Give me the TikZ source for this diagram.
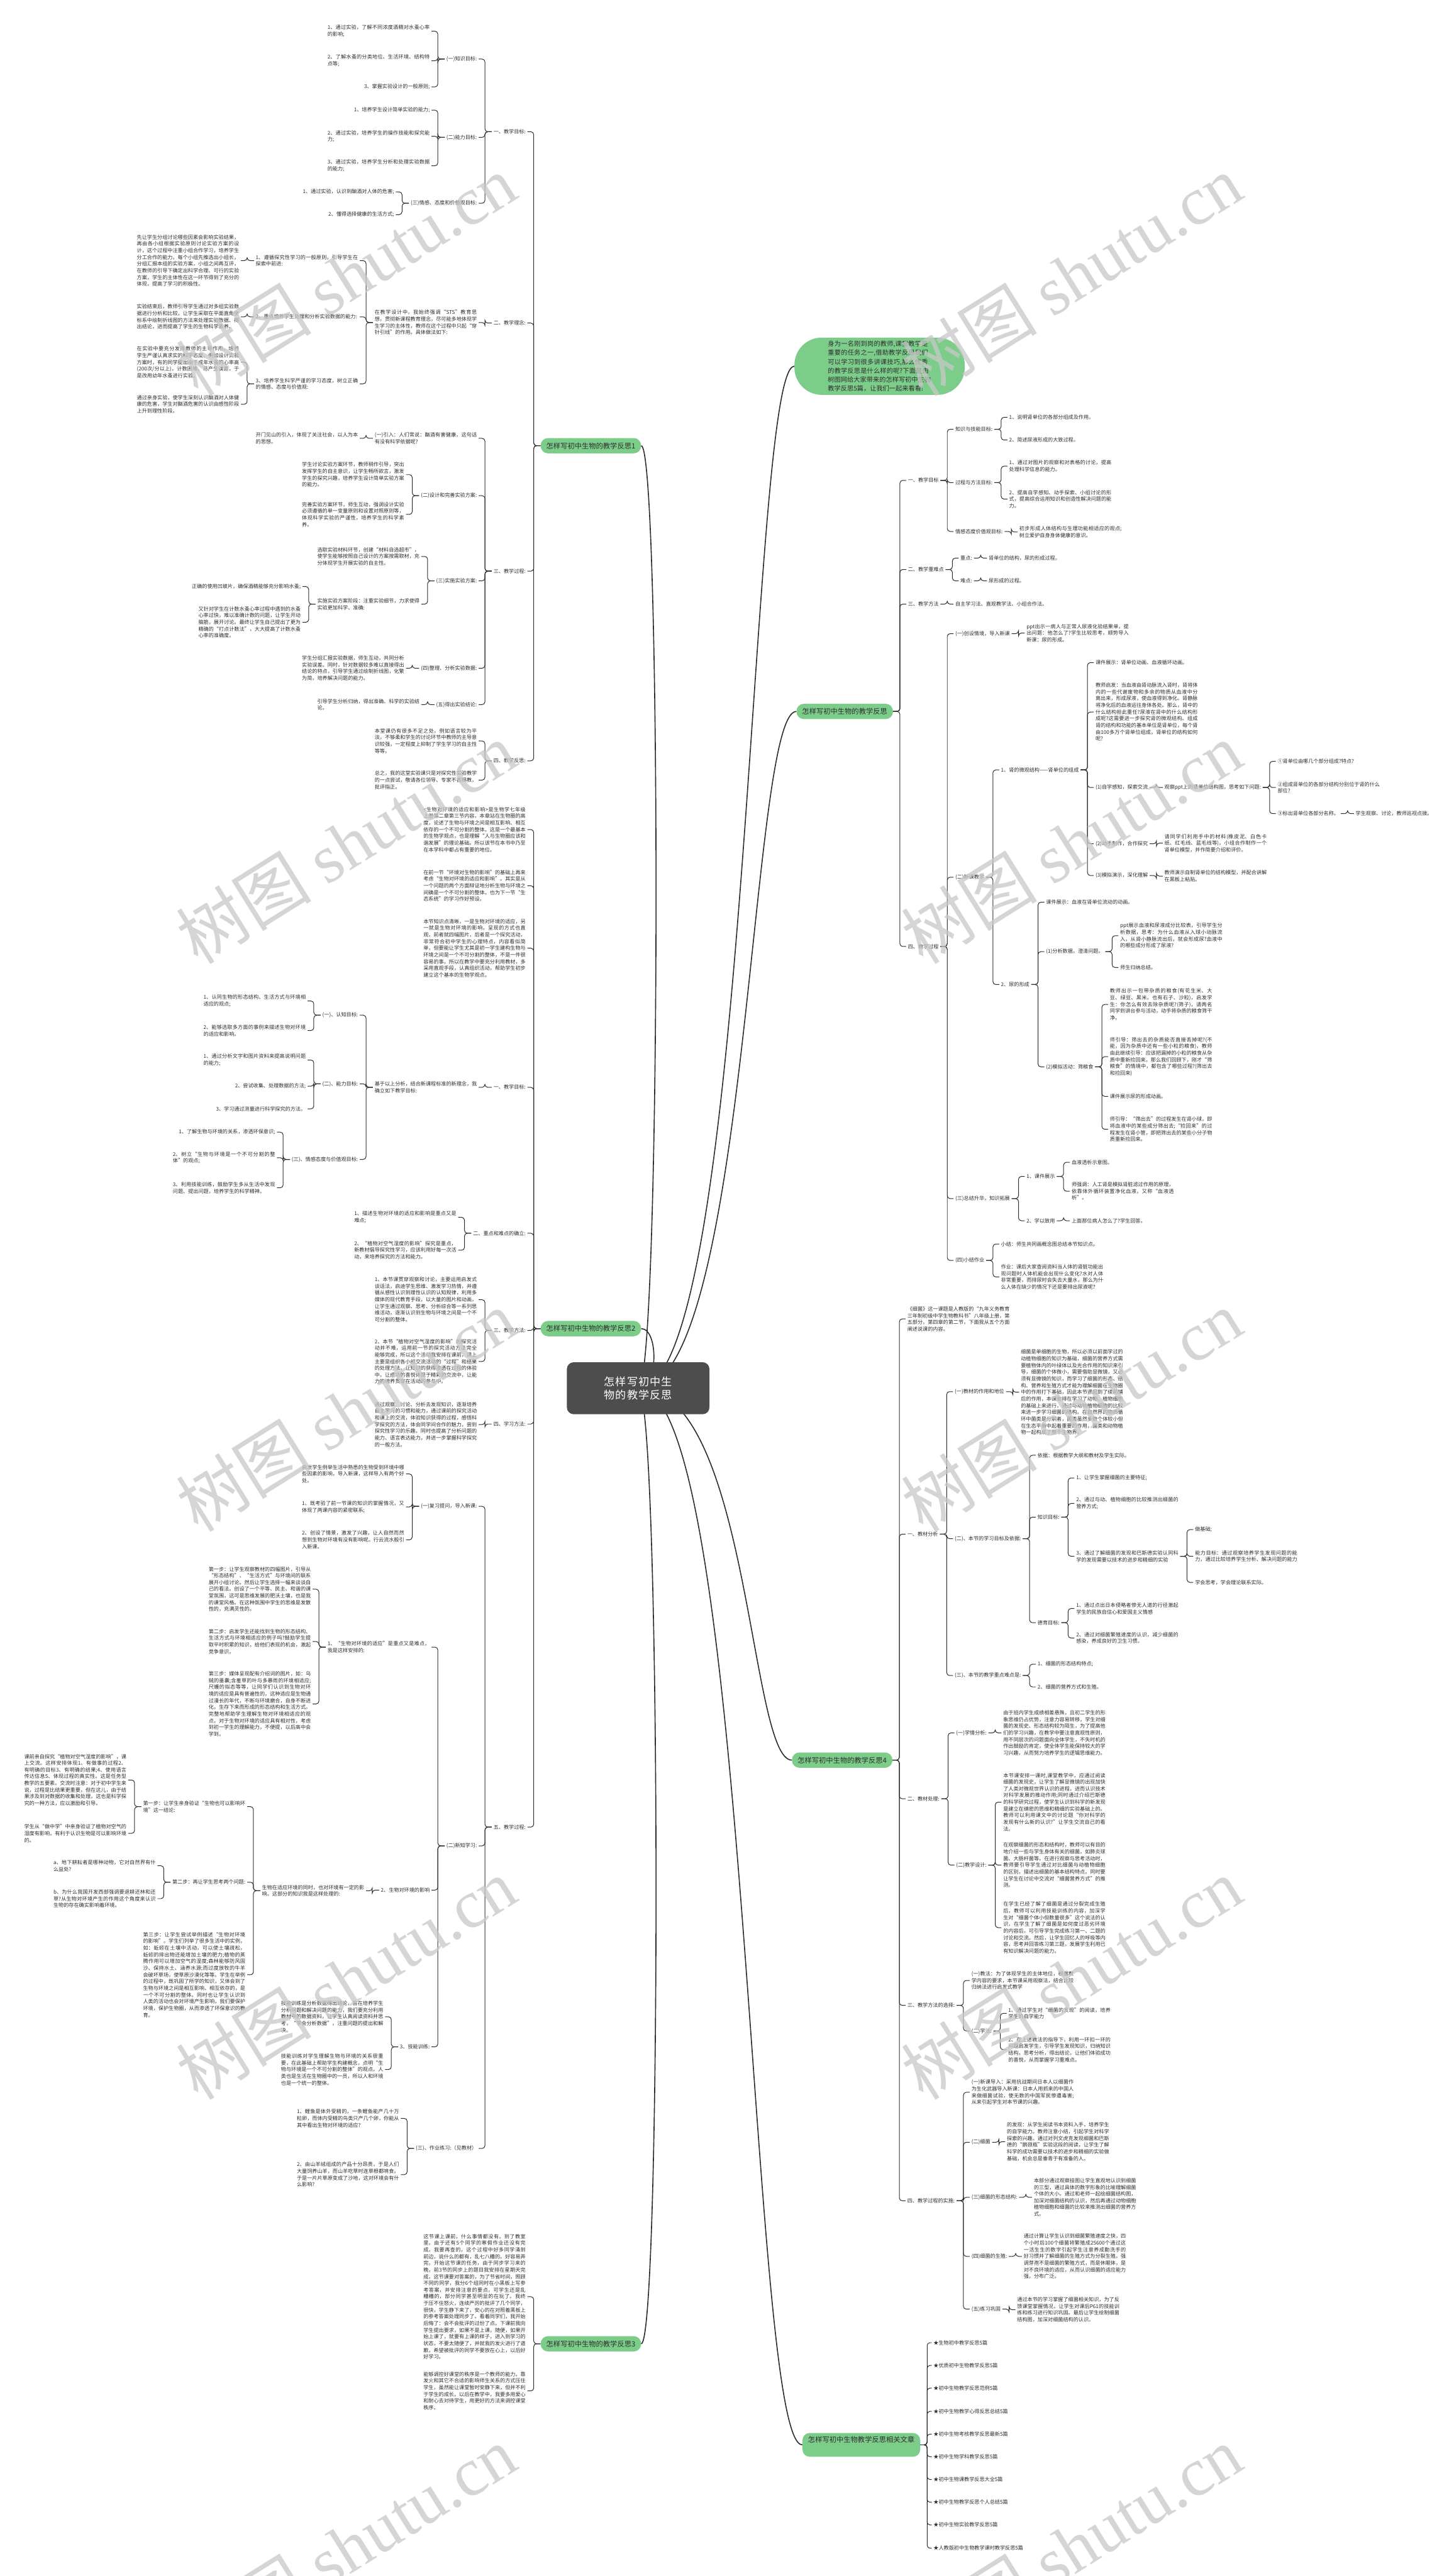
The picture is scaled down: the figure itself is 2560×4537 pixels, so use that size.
\documentclass[tikz,border=0pt]{standalone}
\usepackage{fontspec}
\setmainfont{Noto Sans CJK SC}
\newfontfamily\wmlatin{Liberation Serif}
\usetikzlibrary{positioning,calc}
\XeTeXlinebreaklocale "zh"
\XeTeXlinebreakskip=0pt plus 1pt
\definecolor{ink}{RGB}{45,45,45}
\definecolor{leafgreen}{RGB}{125,205,138}
\definecolor{rootgray}{RGB}{77,77,77}
\definecolor{wmgray}{RGB}{200,200,200}
\newcommand\txtsize{\fontsize{9}{11.8}\selectfont}
\tikzset{
  txt/.style    ={inner xsep=3pt, inner ysep=1pt, font=\txtsize, text=ink},
  para/.style   ={txt, text width=180pt, align=justify},
  lt/.style     ={anchor=east},
  rt/.style     ={anchor=west},
  topic/.style  ={rectangle, rounded corners=13pt, fill=leafgreen, text=ink,
                  font=\fontsize{12.5}{15}\selectfont, minimum height=27pt, inner xsep=10pt},
  bubble/.style ={rectangle, rounded corners=48pt, fill=leafgreen, text=ink, align=left,
                  font=\fontsize{11.3}{15.6}\selectfont, text width=182pt,
                  inner xsep=59pt, inner ysep=6pt},
  rootbox/.style={rectangle, rounded corners=12pt, fill=rootgray, text=white, align=center,
                  font=\fontsize{19}{24}\selectfont, text width=209pt, inner xsep=21pt, inner ysep=25pt},
  link/.style   ={draw=ink, line width=1.1pt, rounded corners=5pt},
  trunk/.style  ={draw=ink, line width=1.8pt},
  wm/.style     ={text=wmgray, opacity=0.75, rotate=32, anchor=base west,
                  font=\fontsize{120}{120}\selectfont}
}
\begin{document}
\begin{tikzpicture}[x=1pt, y=1pt]
\useasboundingbox (0,0) rectangle (2560,-4537);
\fill[white] (0,0) rectangle (2560,-4537);
\coordinate (rootc) at (1124,-2445);

% ---- topics ----
\node[topic, anchor=west] (b1) at (952,-785) {怎样写初中生物的教学反思1};
\node[topic, anchor=west] (b2) at (952,-2340) {怎样写初中生物的教学反思2};
\node[topic, anchor=west] (b3) at (952,-4128) {怎样写初中生物的教学反思3};
\node[bubble, anchor=west] (intro) at (1399,-645) {身为一名刚到岗的教师,课堂教学是重要的任务之一,借助教学反思我们可以学习到很多讲课技巧,那么优秀的教学反思是什么样的呢?下面是由树图网给大家带来的怎样写初中生物教学反思5篇，让我们一起来看看!};
\node[topic, anchor=east] (r1) at (1573,-1253) {怎样写初中生物的教学反思};
\node[topic, anchor=east] (b4) at (1572,-3100) {怎样写初中生物的教学反思4};
\node[topic, anchor=east, minimum height=0pt, text height=11pt, text depth=19pt, inner ysep=6pt] (rel) at (1621,-4306) {怎样写初中生物教学反思相关文章};

% ---- trunks ----
\draw[trunk] (rootc) .. controls (1165,-2445) and (1165,-785) .. (b1.east);
\draw[trunk] (rootc) .. controls (1160,-2445) and (1160,-2340) .. (b2.east);
\draw[trunk] (rootc) .. controls (1165,-2445) and (1165,-4128) .. (b3.east);
\draw[trunk] (rootc) .. controls (1320,-2445) and (1320,-645) .. (intro.west);
\draw[trunk] (rootc) .. controls (1320,-2445) and (1320,-1253) .. (r1.west);
\draw[trunk] (rootc) .. controls (1320,-2445) and (1320,-3100) .. (b4.west);
\draw[trunk] (rootc) .. controls (1320,-2445) and (1320,-4307) .. (rel.west);
\node[rootbox] (root) at (rootc) {怎样写初中生物的教学反思};

% ===== branch 1 =====
\coordinate (b1j) at ([xshift=-12pt]b1.west);
\node[txt,lt] (b1a) at ([xshift=-11pt]b1j |- 0,-232) {一、教学目标:};
\node[txt,lt] (b1b) at ([xshift=-11pt]b1j |- 0,-569) {二、教学理念:};
\node[txt,lt] (b1c) at ([xshift=-11pt]b1j |- 0,-1006) {三、教学过程:};
\node[txt,lt] (b1d) at ([xshift=-11pt]b1j |- 0,-1340) {四、教学反思:};
\foreach \c in {b1a,b1b,b1c,b1d} \draw[link] (b1.west) -- (b1j) |- (\c.east);

\coordinate (b1aj) at ([xshift=-12pt]b1a.west);
\node[txt,lt] (b1a1) at ([xshift=-11pt]b1aj |- 0,-104) {(一)知识目标:};
\node[txt,lt] (b1a2) at ([xshift=-11pt]b1aj |- 0,-242) {(二)能力目标:};
\node[txt,lt] (b1a3) at ([xshift=-11pt]b1aj |- 0,-358) {(三)情感、态度和价值观目标:};
\foreach \c in {b1a1,b1a2,b1a3} \draw[link] (b1a.west) -- (b1aj) |- (\c.east);

\coordinate (b1a1j) at ([xshift=-12pt]b1a1.west);
\node[para,lt] (b1a1a) at ([xshift=-11pt]b1a1j |- 0,-55) {1、通过实验，了解不同浓度酒精对水蚤心率的影响;};
\node[para,lt] (b1a1b) at ([xshift=-11pt]b1a1j |- 0,-107) {2、了解水蚤的分类地位、生活环境、结构特点等;};
\node[txt,lt] (b1a1c) at ([xshift=-11pt]b1a1j |- 0,-153) {3、掌握实验设计的一般原则;};
\foreach \c in {b1a1a,b1a1b,b1a1c} \draw[link] (b1a1.west) -- (b1a1j) |- (\c.east);

\coordinate (b1a2j) at ([xshift=-12pt]b1a2.west);
\node[txt,lt] (b1a2a) at ([xshift=-11pt]b1a2j |- 0,-194) {1、培养学生设计简单实验的能力;};
\node[para,lt] (b1a2b) at ([xshift=-11pt]b1a2j |- 0,-240) {2、通过实验，培养学生的操作技能和探究能力;};
\node[para,lt] (b1a2c) at ([xshift=-11pt]b1a2j |- 0,-292) {3、通过实验，培养学生分析和处理实验数据的能力;};
\foreach \c in {b1a2a,b1a2b,b1a2c} \draw[link] (b1a2.west) -- (b1a2j) |- (\c.east);

\coordinate (b1a3j) at ([xshift=-12pt]b1a3.west);
\node[txt,lt] (b1a3a) at ([xshift=-11pt]b1a3j |- 0,-338) {1、通过实验，认识到酗酒对人体的危害;};
\node[txt,lt] (b1a3b) at ([xshift=-11pt]b1a3j |- 0,-378) {2、懂得选择健康的生活方式;};
\foreach \c in {b1a3a,b1a3b} \draw[link] (b1a3.west) -- (b1a3j) |- (\c.east);

% 二、教学理念
\coordinate (b1bj) at ([xshift=-12pt]b1b.west);
\node[para,lt] (b1b1) at ([xshift=-11pt]b1bj |- 0,-568) {在教学设计中，我始终强调“STS”教育思想，贯彻新课程教育理念，尽可能多地体现学生学习的主体性，教师在这个过程中只起“穿针引线”的作用。具体做法如下:};
\draw[link] (b1b.west) -- (b1bj) |- (b1b1.east);

\coordinate (b1b1j) at ([xshift=-12pt]b1b1.west);
\node[para,lt] (b1b1a) at ([xshift=-11pt]b1b1j |- 0,-459) {1、遵循探究性学习的一般原则，引导学生在探索中前进:};
\node[para,lt] (b1b1b) at ([xshift=-11pt]b1b1j |- 0,-558) {2、重点培养学生处理和分析实验数据的能力:};
\node[para,lt] (b1b1c) at ([xshift=-11pt]b1b1j |- 0,-676) {3、培养学生科学严谨的学习态度，树立正确的情感、态度与价值观:};
\foreach \c in {b1b1a,b1b1b,b1b1c} \draw[link] (b1b1.west) -- (b1b1j) |- (\c.east);

\coordinate (b1b1aj) at ([xshift=-12pt]b1b1a.west);
\node[para,lt] (b1b1a1) at ([xshift=-11pt]b1b1aj |- 0,-459) {先让学生分组讨论哪些因素会影响实验结果，再由各小组根据实验原则讨论实验方案的设计，这个过程中注重小组合作学习，培养学生分工合作的能力。每个小组先推选出小组长，分组汇报本组的实验方案，小组之间再互评，在教师的引导下确定出科学合理、可行的实验方案，学生的主体性在这一环节得到了充分的体现，提高了学习的积极性。};
\draw[link] (b1b1a.west) -- (b1b1aj) |- (b1b1a1.east);
\coordinate (b1b1bj) at ([xshift=-12pt]b1b1b.west);
\node[para,lt] (b1b1b1) at ([xshift=-11pt]b1b1bj |- 0,-558) {实验结束后，教师引导学生通过对多组实验数据进行分析和比较，让学生采取在平面直角坐标系中绘制折线图的方法来处理实验数据、得出结论，进而提高了学生的生物科学素养。};
\draw[link] (b1b1b.west) -- (b1b1bj) |- (b1b1b1.east);
\coordinate (b1b1cj) at ([xshift=-12pt]b1b1c.west);
\node[para,lt] (b1b1c1) at ([xshift=-11pt]b1b1cj |- 0,-638) {在实验中要充分发挥教师的主导作用，培养学生严谨认真求实的科学态度。例如设计实验方案时，有的同学提出由于成年水蚤的心率高(200次/分以上)，计数困难、易产生误差，于是改用幼年水蚤进行实验。};
\node[para,lt] (b1b1c2) at ([xshift=-11pt]b1b1cj |- 0,-712) {通过亲身实验，使学生深刻认识酗酒对人体健康的危害，学生对酗酒危害的认识由感性阶段上升到理性阶段。};
\foreach \c in {b1b1c1,b1b1c2} \draw[link] (b1b1c.west) -- (b1b1cj) |- (\c.east);

% 三、教学过程
\coordinate (b1cj) at ([xshift=-12pt]b1c.west);
\node[para,lt] (b1c1) at ([xshift=-11pt]b1cj |- 0,-772) {(一)引入：人们常说：酗酒有害健康，这句话有没有科学依据呢?};
\node[txt,lt] (b1c2) at ([xshift=-11pt]b1cj |- 0,-873) {(二)设计和完善实验方案:};
\node[txt,lt] (b1c3) at ([xshift=-11pt]b1cj |- 0,-1023) {(三)实施实验方案:};
\node[txt,lt] (b1c4) at ([xshift=-11pt]b1cj |- 0,-1177) {(四)整理、分析实验数据:};
\node[txt,lt] (b1c5) at ([xshift=-11pt]b1cj |- 0,-1241) {(五)得出实验结论:};
\foreach \c in {b1c1,b1c2,b1c3,b1c4,b1c5} \draw[link] (b1c.west) -- (b1cj) |- (\c.east);

\coordinate (b1c1j) at ([xshift=-12pt]b1c1.west);
\node[para,lt] (b1c1a) at ([xshift=-11pt]b1c1j |- 0,-772) {开门见山的引入，体现了关注社会，以人为本的思想。};
\draw[link] (b1c1.west) -- (b1c1j) |- (b1c1a.east);
\coordinate (b1c2j) at ([xshift=-12pt]b1c2.west);
\node[para,lt] (b1c2a) at ([xshift=-11pt]b1c2j |- 0,-836) {学生讨论实验方案环节，教师稍作引导，突出发挥学生的自主意识，让学生畅所欲言，激发学生的探究兴趣，培养学生设计简单实验方案的能力。};
\node[para,lt] (b1c2b) at ([xshift=-11pt]b1c2j |- 0,-906) {完善实验方案环节，师生互动，强调设计实验必须遵循的单一变量原则和设置对照原则等，体现科学实验的严谨性，培养学生的科学素养。};
\foreach \c in {b1c2a,b1c2b} \draw[link] (b1c2.west) -- (b1c2j) |- (\c.east);
\coordinate (b1c3j) at ([xshift=-12pt]b1c3.west);
\node[para,lt] (b1c3a) at ([xshift=-11pt]b1c3j |- 0,-980) {选取实验材料环节，创建“材料自选超市”，使学生能够按照自己设计的方案按需取材，充分体现学生开展实验的自主性。};
\node[para,lt] (b1c3b) at ([xshift=-11pt]b1c3j |- 0,-1064) {实施实验方案阶段：注重实验细节，力求使得实验更加科学、准确:};
\foreach \c in {b1c3a,b1c3b} \draw[link] (b1c3.west) -- (b1c3j) |- (\c.east);
\coordinate (b1c3bj) at ([xshift=-12pt]b1c3b.west);
\node[txt,lt] (b1c3b1) at ([xshift=-11pt]b1c3bj |- 0,-1033) {正确的使用凹玻片，确保酒精能够充分影响水蚤;};
\node[para,lt] (b1c3b2) at ([xshift=-11pt]b1c3bj |- 0,-1096) {又针对学生在计数水蚤心率过程中遇到的水蚤心率过快，难以准确计数的问题，让学生开动脑筋，展开讨论。最终让学生自己提出了更为精确的“打点计数法”，大大提高了计数水蚤心率的准确度。};
\foreach \c in {b1c3b1,b1c3b2} \draw[link] (b1c3b.west) -- (b1c3bj) |- (\c.east);
\coordinate (b1c4j) at ([xshift=-12pt]b1c4.west);
\node[para,lt] (b1c4a) at ([xshift=-11pt]b1c4j |- 0,-1177) {学生分组汇报实验数据，师生互动，共同分析实验误差。同时，针对数据较多难以直接得出结论的特点，引导学生通过绘制折线图，化繁为简，培养解决问题的能力。};
\draw[link] (b1c4.west) -- (b1c4j) |- (b1c4a.east);
\coordinate (b1c5j) at ([xshift=-12pt]b1c5.west);
\node[para,lt] (b1c5a) at ([xshift=-11pt]b1c5j |- 0,-1241) {引导学生分析归纳，得出准确、科学的实验结论。};
\draw[link] (b1c5.west) -- (b1c5j) |- (b1c5a.east);

% 四、教学反思
\coordinate (b1dj) at ([xshift=-12pt]b1d.west);
\node[para,lt] (b1d1) at ([xshift=-11pt]b1dj |- 0,-1305) {本堂课仍有很多不足之处，例如语言较为平淡，不够柔和学生的讨论环节中教师的主导意识较强，一定程度上抑制了学生学习的自主性等等。};
\node[para,lt] (b1d2) at ([xshift=-11pt]b1dj |- 0,-1374) {总之，我的这堂实验课只是对探究性实验教学的一点尝试，敬请各位领导、专家不吝赐教，批评指正。};
\foreach \c in {b1d1,b1d2} \draw[link] (b1d.west) -- (b1dj) |- (\c.east);

% ===== branch 2 =====
\coordinate (b2j) at ([xshift=-12pt]b2.west);
\node[para,lt] (b2p1) at ([xshift=-11pt]b2j |- 0,-1461) {<生物对环境的适应和影响>是生物学七年级上册第二章第三节内容。本章站在生物圈的高度，论述了生物与环境之间是相互影响、相互依存的一个不可分割的整体。这是一个最基本的生物学观点，也是理解“人与生物圈应该和谐发展”的理论基础。所以该节在本书中乃至在本学科中都占有重要的地位。};
\node[para,lt] (b2p2) at ([xshift=-11pt]b2j |- 0,-1560) {在前一节“环境对生物的影响”的基础上再来考虑“生物对环境的适应和影响”。其实是从一个问题的两个方面辩证地分析生物与环境之间确是一个不可分割的整体。也为下一节“生态系统”的学习作好预设。};
\node[para,lt] (b2p3) at ([xshift=-11pt]b2j |- 0,-1670) {本节知识点清晰，一是生物对环境的适应，另一就是生物对环境的影响，呈现的方式也直观，前者就四幅图片，后者是一个探究活动，非常符合初中学生的心理特点，内容看似简单，但要能让学生尤其是初一学生建构生物与环境之间是一个不可分割的整体，不是一件很容易的事。所以在教学中要充分利用教材，多采用直观手段，认真组织活动，帮助学生初步建立这个基本的生物学观点。};
\node[txt,lt] (b2a) at ([xshift=-11pt]b2j |- 0,-1915) {一、教学目标:};
\node[txt,lt] (b2b) at ([xshift=-11pt]b2j |- 0,-2172) {二、重点和难点的确立:};
\node[txt,lt] (b2c) at ([xshift=-11pt]b2j |- 0,-2343) {三、教学方法:};
\node[txt,lt] (b2d) at ([xshift=-11pt]b2j |- 0,-2508) {四、学习方法:};
\node[txt,lt] (b2e) at ([xshift=-11pt]b2j |- 0,-3218) {五、教学过程:};
\foreach \c in {b2p1,b2p2,b2p3,b2a,b2b,b2c,b2d,b2e} \draw[link] (b2.west) -- (b2j) |- (\c.east);

\coordinate (b2aj) at ([xshift=-12pt]b2a.west);
\node[para,lt] (b2a1) at ([xshift=-11pt]b2aj |- 0,-1915) {基于以上分析，结合新课程标准的新理念，我确立如下教学目标:};
\draw[link] (b2a.west) -- (b2aj) |- (b2a1.east);
\coordinate (b2a1j) at ([xshift=-12pt]b2a1.west);
\node[txt,lt] (b2a1a) at ([xshift=-11pt]b2a1j |- 0,-1788) {(一)、认知目标:};
\node[txt,lt] (b2a1b) at ([xshift=-11pt]b2a1j |- 0,-1909) {(二)、能力目标:};
\node[txt,lt] (b2a1c) at ([xshift=-11pt]b2a1j |- 0,-2042) {(三)、情感态度与价值观目标:};
\foreach \c in {b2a1a,b2a1b,b2a1c} \draw[link] (b2a1.west) -- (b2a1j) |- (\c.east);
\coordinate (b2a1aj) at ([xshift=-12pt]b2a1a.west);
\node[para,lt] (b2a1a1) at ([xshift=-11pt]b2a1aj |- 0,-1763) {1、认同生物的形态结构、生活方式与环境相适应的观点;};
\node[para,lt] (b2a1a2) at ([xshift=-11pt]b2a1aj |- 0,-1815) {2、能够选取多方面的事例来描述生物对环境的适应和影响。};
\foreach \c in {b2a1a1,b2a1a2} \draw[link] (b2a1a.west) -- (b2a1aj) |- (\c.east);
\coordinate (b2a1bj) at ([xshift=-12pt]b2a1b.west);
\node[para,lt] (b2a1b1) at ([xshift=-11pt]b2a1bj |- 0,-1867) {1、通过分析文字和图片资料来提高说明问题的能力;};
\node[txt,lt] (b2a1b2) at ([xshift=-11pt]b2a1bj |- 0,-1913) {2、尝试收集、处理数据的方法;};
\node[txt,lt] (b2a1b3) at ([xshift=-11pt]b2a1bj |- 0,-1953) {3、学习通过测量进行科学探究的方法。};
\foreach \c in {b2a1b1,b2a1b2,b2a1b3} \draw[link] (b2a1b.west) -- (b2a1bj) |- (\c.east);
\coordinate (b2a1cj) at ([xshift=-12pt]b2a1c.west);
\node[txt,lt] (b2a1c1) at ([xshift=-11pt]b2a1cj |- 0,-1994) {1、了解生物与环境的关系，渗透环保意识;};
\node[para,lt] (b2a1c2) at ([xshift=-11pt]b2a1cj |- 0,-2039) {2、树立“生物与环境是一个不可分割的整体”的观点;};
\node[para,lt] (b2a1c3) at ([xshift=-11pt]b2a1cj |- 0,-2092) {3、利用技能训练，鼓励学生多从生活中发现问题、提出问题，培养学生的科学精神。};
\foreach \c in {b2a1c1,b2a1c2,b2a1c3} \draw[link] (b2a1c.west) -- (b2a1cj) |- (\c.east);

\coordinate (b2bj) at ([xshift=-12pt]b2b.west);
\node[para,lt] (b2b1) at ([xshift=-11pt]b2bj |- 0,-2144) {1、描述生物对环境的适应和影响是重点又是难点;};
\node[para,lt] (b2b2) at ([xshift=-11pt]b2bj |- 0,-2202) {2、“植物对空气湿度的影响”探究是重点，新教材倡导探究性学习，应该利用好每一次活动，来培养探究的方法和能力。};
\foreach \c in {b2b1,b2b2} \draw[link] (b2b.west) -- (b2bj) |- (\c.east);

\coordinate (b2cj) at ([xshift=-12pt]b2c.west);
\node[para,lt] (b2c1) at ([xshift=-11pt]b2cj |- 0,-2289) {1、本节课贯穿观察和讨论，主要运用启发式谈话法，启迪学生思维、激发学习热情，并遵循从感性认识到理性认识的认知规律，利用多媒体的现代教育手段，以大量的图片和动画，让学生通过观察、思考、分析综合等一系列思维活动，逐渐认识到生物与环境之间是一个不可分割的整体。};
\node[para,lt] (b2c2) at ([xshift=-11pt]b2cj |- 0,-2398) {2、本节“植物对空气湿度的影响”的探究活动并不难，运用前一节的探究活动方法完全能够完成，所以这个活动我安排在课前，课上主要是组织各小组交流活动的“过程”和结果的处理方法。让知识的获得渗透在过程的体验中，让成功的喜悦体现于精彩的交流中，让能力的培养贯穿在活动的参与中。};
\foreach \c in {b2c1,b2c2} \draw[link] (b2c.west) -- (b2cj) |- (\c.east);

\coordinate (b2dj) at ([xshift=-12pt]b2d.west);
\node[para,lt] (b2d1) at ([xshift=-11pt]b2dj |- 0,-2509) {通过观察、讨论、分析去发现知识，逐渐培养自主学习的习惯和能力，通过课前的探究活动和课上的交流，体验知识获得的过程，感悟科学探究的方法，体会同学间合作的魅力，尝到探究性学习的乐趣。同时也提高了分析问题的能力、语言表达能力，并进一步掌握科学探究的一般方法。};
\draw[link] (b2d.west) -- (b2dj) |- (b2d1.east);

\coordinate (b2ej) at ([xshift=-12pt]b2e.west);
\node[txt,lt] (b2e1) at ([xshift=-11pt]b2ej |- 0,-2653) {(一)复习提问，导入新课:};
\node[txt,lt] (b2e2) at ([xshift=-11pt]b2ej |- 0,-3251) {(二)新知学习:};
\node[txt,lt] (b2e3) at ([xshift=-11pt]b2ej |- 0,-3784) {(三)、作业练习:（见教材）};
\foreach \c in {b2e1,b2e2,b2e3} \draw[link] (b2e.west) -- (b2ej) |- (\c.east);

\coordinate (b2e1j) at ([xshift=-12pt]b2e1.west);
\node[para,lt] (b2e1a) at ([xshift=-11pt]b2e1j |- 0,-2596) {启发学生例举生活中熟悉的生物受到环境中哪些因素的影响，导入新课，这样导入有两个好处。};
\node[para,lt] (b2e1b) at ([xshift=-11pt]b2e1j |- 0,-2654) {1、既考验了前一节课的知识的掌握情况，又体现了两课内容的紧密联系;};
\node[para,lt] (b2e1c) at ([xshift=-11pt]b2e1j |- 0,-2712) {2、创设了情景，激发了兴趣，让人自然而然想到生物对环境有没有影响呢。行云流水般引入新课。};
\foreach \c in {b2e1a,b2e1b,b2e1c} \draw[link] (b2e1.west) -- (b2e1j) |- (\c.east);

\coordinate (b2e2j) at ([xshift=-12pt]b2e2.west);
\node[para,lt] (b2e2a) at ([xshift=-11pt]b2e2j |- 0,-2901) {1、“生物对环境的适应”是重点又是难点，我是这样安排的:};
\node[txt,lt] (b2e2b) at ([xshift=-11pt]b2e2j |- 0,-3329) {2、生物对环境的影响};
\node[txt,lt] (b2e2c) at ([xshift=-11pt]b2e2j |- 0,-3605) {3、技能训练:};
\foreach \c in {b2e2a,b2e2b,b2e2c} \draw[link] (b2e2.west) -- (b2e2j) |- (\c.east);

\coordinate (b2e2aj) at ([xshift=-12pt]b2e2a.west);
\node[para,lt] (b2e2a1) at ([xshift=-11pt]b2e2aj |- 0,-2799) {第一步：让学生观察教材的四幅图片，引导从“形态结构”、“生活方式”与环境间的联系展开小组讨论。然后让学生选择一幅来谈谈自己的看法。创设了一个平等、民主、和谐的课堂氛围，这可是思维发展的肥沃土壤，也是我的课堂风格。在这种氛围中学生的思维是发散性的，充满灵性的。};
\node[para,lt] (b2e2a2) at ([xshift=-11pt]b2e2aj |- 0,-2891) {第二步：启发学生还能找到生物的形态结构、生活方式与环境相适应的例子吗?鼓励学生提取平时积累的知识，给他们表现的机会，激起竞争意识。};
\node[para,lt] (b2e2a3) at ([xshift=-11pt]b2e2aj |- 0,-3001) {第三步：媒体呈现配有介绍词的图片，如：乌贼的墨囊;含羞草的叶与多暴雨的环境相适应;尺蠖的拟态等等，让同学们认识到生物对环境的适应是具有普遍性的，这种适应是生物通过漫长的年代，不断与环境磨合，自身不断进化，生存下来而形成的形态结构和生活方式。完整地帮助学生理解生物对环境相适应的观点，对于生物对环境的适应具有相对性，考虑到初一学生的理解能力，不便提，以后高中会学到。};
\foreach \c in {b2e2a1,b2e2a2,b2e2a3} \draw[link] (b2e2a.west) -- (b2e2aj) |- (\c.east);

\coordinate (b2e2bj) at ([xshift=-12pt]b2e2b.west);
\node[para,lt] (b2e2b1) at ([xshift=-11pt]b2e2bj |- 0,-3330) {生物在适应环境的同时，也对环境有一定的影响。这部分的知识我是这样处理的:};
\draw[link] (b2e2b.west) -- (b2e2bj) |- (b2e2b1.east);
\coordinate (b2e2b1j) at ([xshift=-12pt]b2e2b1.west);
\node[para,lt] (step1) at ([xshift=-11pt]b2e2b1j |- 0,-3182) {第一步：让学生亲身验证“生物也可以影响环境”这一结论:};
\node[txt,lt] (step2) at ([xshift=-11pt]b2e2b1j |- 0,-3315) {第二步：再让学生思考两个问题:};
\node[para,lt] (step3) at ([xshift=-11pt]b2e2b1j |- 0,-3478) {第三步：让学生尝试举例描述“生物对环境的影响”。学生们列举了很多生活中的实例，如：蚯蚓在土壤中活动，可以使土壤疏松，蚯蚓的排出物还能增加土壤的肥力;植物的蒸腾作用可以增加空气的湿度;森林能够防风固沙、保持水土、涵养水源;而过度放牧的牛羊会破坏草场，使草原沙漠化等等。学生在举例的过程中，既巩固了所学的知识，又体会到了生物与环境之间是相互影响、相互依存的，是一个不可分割的整体。同时也让学生认识到人类的活动也会对环境产生影响，我们要保护环境，保护生物圈，从而渗透了环保意识的教育。};
\foreach \c in {step1,step2,step3} \draw[link] (b2e2b1.west) -- (b2e2b1j) |- (\c.east);
\coordinate (step1j) at ([xshift=-12pt]step1.west);
\node[para,lt] (step1a) at ([xshift=-11pt]step1j |- 0,-3135) {课前亲自探究“植物对空气湿度的影响”，课上交流。这样安排体现1、有做事的过程2、有明确的目标3、有明确的结果;4、使用语言传达信息5、体现过程的真实性。这是任务型教学的五要素。交流时注意：对于初中学生来说，过程是比结果更重要，但在这儿，由于结果涉及到对数据的收集和处理，这也是科学探究的一种方法，应以激励和引导。};
\node[para,lt] (step1b) at ([xshift=-11pt]step1j |- 0,-3229) {学生从“做中学”中亲身验证了植物对空气的湿度有影响，有利于认识生物是可以影响环境的。};
\foreach \c in {step1a,step1b} \draw[link] (step1.west) -- (step1j) |- (\c.east);
\coordinate (step2j) at ([xshift=-12pt]step2.west);
\node[para,lt] (step2a) at ([xshift=-11pt]step2j |- 0,-3286) {a、地下耕耘者是哪种动物，它对自然界有什么益处?};
\node[para,lt] (step2b) at ([xshift=-11pt]step2j |- 0,-3344) {b、为什么我国开发西部强调要退耕还林和还草?从生物对环境产生的作用这个角度来认识生物的存在确实影响着环境。};
\foreach \c in {step2a,step2b} \draw[link] (step2.west) -- (step2j) |- (\c.east);

\coordinate (b2e2cj) at ([xshift=-12pt]b2e2c.west);
\node[para,lt] (b2e2c1) at ([xshift=-11pt]b2e2cj |- 0,-3552) {技能训练是分析数据得出结论，旨在培养学生分析问题和解决问题的能力，我们要充分利用教材中的数据资料，让学生认真阅读资料并思考，“学会分析数据”，注重问题的提出和解决。};
\node[para,lt] (b2e2c2) at ([xshift=-11pt]b2e2cj |- 0,-3645) {技能训练对学生理解生物与环境的关系很重要，在此基础上帮助学生构建概念，点明“生物与环境是一个不可分割的整体”的观点。人类也是生活在生物圈中的一员，所以人和环境也是一个统一的整体。};
\foreach \c in {b2e2c1,b2e2c2} \draw[link] (b2e2c.west) -- (b2e2cj) |- (\c.east);

\coordinate (b2e3j) at ([xshift=-12pt]b2e3.west);
\node[para,lt] (b2e3a) at ([xshift=-11pt]b2e3j |- 0,-3731) {1、鲤鱼是体外受精的，一条鲤鱼能产几十万粒卵，而体内受精的鸟类只产几个卵，你能从其中看出生物对环境的适应?};
\node[para,lt] (b2e3b) at ([xshift=-11pt]b2e3j |- 0,-3830) {2、由山羊绒组成的产品十分昂贵，于是人们大量饲养山羊，而山羊吃草时连草根都啃食。于是一片片草原变成了沙地，这对环境会有什么影响?};
\foreach \c in {b2e3a,b2e3b} \draw[link] (b2e3.west) -- (b2e3j) |- (\c.east);

% ===== branch 3 =====
\coordinate (b3j) at ([xshift=-12pt]b3.west);
\node[para,lt] (b3a) at ([xshift=-11pt]b3j |- 0,-4045) {这节课上课前，什么事情都没有，到了教室里，由于还有5个同学的寒假作业还没有完成，我要再查的，这个过程中好多同学涌到前边，说什么的都有，乱七八糟的。好容易弄完，开始这节课的任务，由于同步学习来的晚，前3节的同步上的题目我安排在星期天完成，这节课要对答案的，为了节省时间，照顾不同的同学，我分6个组同时在小黑板上写参考答案，并安排注意的要点，可学生还是乱糟糟的，部分同学甚至明显的在玩了。我终于压不住怒火，连续严厉的批评了几个同学，很快，学生静下来了，安心的在对照着黑板上的参考答案处理同步了。看着同学们，我开始后悔了：会不会批评的过份了点。下课前我向学生提出要求，如果不是上课，随便，如果开始上课了，就要有上课的样子，进入到学习的状态，不要太随便了，并就我的发火进行了道歉，希望被批评的同学不要放在心上，以后好好学习。};
\node[para,lt] (b3b) at ([xshift=-11pt]b3j |- 0,-4211) {能够调控好课堂的秩序是一个教师的能力。靠发火和其它不合适的影响师生关系的方式压住学生，虽然能让课堂暂时安静下来，但并不利于学生的成长。以后在教学中，我要多用爱心和耐心去对待学生，用更好的方法来调控课堂秩序。};
\foreach \c in {b3a,b3b} \draw[link] (b3.west) -- (b3j) |- (\c.east);

% ===== right branch =====
\coordinate (r1j) at ([xshift=12pt]r1.east);
\node[txt,rt] (r1a) at ([xshift=11pt]r1j |- 0,-846) {一、教学目标};
\node[txt,rt] (r1b) at ([xshift=11pt]r1j |- 0,-1003) {二、教学重难点};
\node[txt,rt] (r1c) at ([xshift=11pt]r1j |- 0,-1064) {三、教学方法};
\node[txt,rt] (r1d) at ([xshift=11pt]r1j |- 0,-1667) {四、教学过程};
\foreach \c in {r1a,r1b,r1c,r1d} \draw[link] (r1.east) -- (r1j) |- (\c.west);

\coordinate (r1aj) at ([xshift=12pt]r1a.east);
\node[txt,rt] (r1a1) at ([xshift=11pt]r1aj |- 0,-756) {知识与技能目标:};
\node[txt,rt] (r1a2) at ([xshift=11pt]r1aj |- 0,-850) {过程与方法目标:};
\node[txt,rt] (r1a3) at ([xshift=11pt]r1aj |- 0,-936) {情感态度价值观目标:};
\foreach \c in {r1a1,r1a2,r1a3} \draw[link] (r1a.east) -- (r1aj) |- (\c.west);
\coordinate (r1a1j) at ([xshift=12pt]r1a1.east);
\node[txt,rt] (r1a1a) at ([xshift=11pt]r1a1j |- 0,-735) {1、说明肾单位的各部分组成及作用。};
\node[txt,rt] (r1a1b) at ([xshift=11pt]r1a1j |- 0,-775) {2、简述尿液形成的大致过程。};
\foreach \c in {r1a1a,r1a1b} \draw[link] (r1a1.east) -- (r1a1j) |- (\c.west);
\coordinate (r1a2j) at ([xshift=12pt]r1a2.east);
\node[para,rt] (r1a2a) at ([xshift=11pt]r1a2j |- 0,-821) {1、通过对图片的观察和对表格的讨论，提高处理科学信息的能力。};
\node[para,rt] (r1a2b) at ([xshift=11pt]r1a2j |- 0,-879) {2、提高自学感知、动手探索、小组讨论的形式，提高综合运用知识和创造性解决问题的能力。};
\foreach \c in {r1a2a,r1a2b} \draw[link] (r1a2.east) -- (r1a2j) |- (\c.west);
\coordinate (r1a3j) at ([xshift=12pt]r1a3.east);
\node[para,rt] (r1a3a) at ([xshift=11pt]r1a3j |- 0,-937) {初步形成人体结构与生理功能相适应的观点;树立爱护自身身体健康的意识。};
\draw[link] (r1a3.east) -- (r1a3j) |- (r1a3a.west);

\coordinate (r1bj) at ([xshift=12pt]r1b.east);
\node[txt,rt] (r1b1) at ([xshift=11pt]r1bj |- 0,-983) {重点:};
\node[txt,rt] (r1b2) at ([xshift=11pt]r1bj |- 0,-1023) {难点:};
\foreach \c in {r1b1,r1b2} \draw[link] (r1b.east) -- (r1bj) |- (\c.west);
\coordinate (r1b1j) at ([xshift=12pt]r1b1.east);
\node[txt,rt] (r1b1a) at ([xshift=11pt]r1b1j |- 0,-983) {肾单位的结构，尿的形成过程。};
\draw[link] (r1b1.east) -- (r1b1j) |- (r1b1a.west);
\coordinate (r1b2j) at ([xshift=12pt]r1b2.east);
\node[txt,rt] (r1b2a) at ([xshift=11pt]r1b2j |- 0,-1023) {尿形成的过程。};
\draw[link] (r1b2.east) -- (r1b2j) |- (r1b2a.west);

\coordinate (r1cj) at ([xshift=12pt]r1c.east);
\node[txt,rt] (r1c1) at ([xshift=11pt]r1cj |- 0,-1064) {自主学习法、直观教学法、小组合作法。};
\draw[link] (r1c.east) -- (r1cj) |- (r1c1.west);

\coordinate (r1dj) at ([xshift=12pt]r1d.east);
\node[txt,rt] (r1d1) at ([xshift=11pt]r1dj |- 0,-1116) {(一)创设情境，导入新课};
\node[txt,rt] (r1d2) at ([xshift=11pt]r1dj |- 0,-1545) {(二)新课教学};
\node[txt,rt] (r1d3) at ([xshift=11pt]r1dj |- 0,-2111) {(三)总结升华，知识拓展};
\node[txt,rt] (r1d4) at ([xshift=11pt]r1dj |- 0,-2220) {(四)小结作业};
\foreach \c in {r1d1,r1d2,r1d3,r1d4} \draw[link] (r1d.east) -- (r1dj) |- (\c.west);
\coordinate (r1d1j) at ([xshift=12pt]r1d1.east);
\node[para,rt] (r1d1a) at ([xshift=11pt]r1d1j |- 0,-1115) {ppt出示一病人与正常人尿液化验结果单，提出问题：他怎么了?学生比较思考，顺势导入新课：尿的形成。};
\draw[link] (r1d1.east) -- (r1d1j) |- (r1d1a.west);

\coordinate (r1d2j) at ([xshift=12pt]r1d2.east);
\node[txt,rt] (r1d2a) at ([xshift=11pt]r1d2j |- 0,-1356) {1、肾的微观结构——肾单位的组成};
\node[txt,rt] (r1d2b) at ([xshift=11pt]r1d2j |- 0,-1734) {2、尿的形成};
\foreach \c in {r1d2a,r1d2b} \draw[link] (r1d2.east) -- (r1d2j) |- (\c.west);
\coordinate (r1d2aj) at ([xshift=12pt]r1d2a.east);
\node[txt,rt] (kid1) at ([xshift=11pt]r1d2aj |- 0,-1167) {课件展示：肾单位动画、血液循环动画。};
\node[para,rt] (kid2) at ([xshift=11pt]r1d2aj |- 0,-1254) {教师启发：当血液由肾动脉流入肾时，肾将体内的一些代谢废物和多余的物质从血液中分离出来，形成尿液，使血液得到净化。肾静脉将净化后的血液运往身体各处。那么，肾中的什么结构担此重任?尿液在肾中的什么结构形成呢?这需要进一步探究肾的微观结构。组成肾的结构和功能的基本单位是肾单位，每个肾由100多万个肾单位组成，肾单位的结构如何呢?};
\node[txt,rt] (kid3) at ([xshift=11pt]r1d2aj |- 0,-1387) {(1)自学感知，探索交流};
\node[txt,rt] (kid4) at ([xshift=11pt]r1d2aj |- 0,-1486) {(2)动手制作，合作探究};
\node[txt,rt] (kid5) at ([xshift=11pt]r1d2aj |- 0,-1542) {(3)模拟演示，深化理解};
\foreach \c in {kid1,kid2,kid3,kid4,kid5} \draw[link] (r1d2a.east) -- (r1d2aj) |- (\c.west);
\coordinate (kid3j) at ([xshift=12pt]kid3.east);
\node[txt,rt] (kid3a) at ([xshift=11pt]kid3j |- 0,-1387) {观察ppt上的肾单位结构图，思考如下问题:};
\draw[link] (kid3.east) -- (kid3j) |- (kid3a.west);
\coordinate (kid3aj) at ([xshift=12pt]kid3a.east);
\node[txt,rt] (q1) at ([xshift=11pt]kid3aj |- 0,-1341) {①肾单位由哪几个部分组成?特点?};
\node[para,rt] (q2) at ([xshift=11pt]kid3aj |- 0,-1387) {②组成肾单位的各部分结构分别位于肾的什么部位?};
\node[txt,rt] (q3) at ([xshift=11pt]kid3aj |- 0,-1433) {③标出肾单位各部分名称。};
\foreach \c in {q1,q2,q3} \draw[link] (kid3a.east) -- (kid3aj) |- (\c.west);
\coordinate (q3j) at ([xshift=12pt]q3.east);
\node[txt,rt] (q3a) at ([xshift=11pt]q3j |- 0,-1433) {学生观察、讨论，教师巡视点拨。};
\draw[link] (q3.east) -- (q3j) |- (q3a.west);
\coordinate (kid4j) at ([xshift=12pt]kid4.east);
\node[para,rt] (kid4a) at ([xshift=11pt]kid4j |- 0,-1485) {请同学们利用手中的材料(橡皮泥、白色卡纸、红毛线、蓝毛线等)，小组合作制作一个肾单位模型，并作简要介绍和评价。};
\draw[link] (kid4.east) -- (kid4j) |- (kid4a.west);
\coordinate (kid5j) at ([xshift=12pt]kid5.east);
\node[para,rt] (kid5a) at ([xshift=11pt]kid5j |- 0,-1543) {教师演示自制肾单位的结构模型，并配合讲解在黑板上粘贴。};
\draw[link] (kid5.east) -- (kid5j) |- (kid5a.west);

\coordinate (r1d2bj) at ([xshift=12pt]r1d2b.east);
\node[txt,rt] (uri1) at ([xshift=11pt]r1d2bj |- 0,-1589) {课件展示：血液在肾单位流动的动画。};
\node[txt,rt] (uri2) at ([xshift=11pt]r1d2bj |- 0,-1676) {(1)分析数据，澄清问题。};
\node[txt,rt] (uri3) at ([xshift=11pt]r1d2bj |- 0,-1879) {(2)模拟活动：筛粮食};
\foreach \c in {uri1,uri2,uri3} \draw[link] (r1d2b.east) -- (r1d2bj) |- (\c.west);
\coordinate (uri2j) at ([xshift=12pt]uri2.east);
\node[para,rt] (uri2a) at ([xshift=11pt]uri2j |- 0,-1648) {ppt展示血液和尿液成分比较表，引导学生分析数据，思考：为什么血液从入球小动脉流入，从肾小静脉流出后，就会形成尿?血液中的哪些成分形成了尿液?};
\node[txt,rt] (uri2b) at ([xshift=11pt]uri2j |- 0,-1704) {师生归纳总结。};
\foreach \c in {uri2a,uri2b} \draw[link] (uri2.east) -- (uri2j) |- (\c.west);
\coordinate (uri3j) at ([xshift=12pt]uri3.east);
\node[para,rt] (uri3a) at ([xshift=11pt]uri3j |- 0,-1769) {教师出示一包带杂质的粮食(有花生米、大豆、绿豆、黑米，也有石子、沙粒)，启发学生：你怎么有效去除杂质呢?(筛子)，请两名同学到讲台参与活动，动手将杂质的粮食筛干净。};
\node[para,rt] (uri3b) at ([xshift=11pt]uri3j |- 0,-1861) {师引导：筛出去的杂质能否直接丢掉呢?(不能，因为杂质中还有一些小粒的粮食)，教师由此继续引导：应该把漏掉的小粒的粮食从杂质中重新捡回来。那么我们回顾下，刚才“筛粮食”的情境中，都包含了哪些过程?(筛出去和捡回来)};
\node[txt,rt] (uri3c) at ([xshift=11pt]uri3j |- 0,-1931) {课件展示尿的形成动画。};
\node[para,rt] (uri3d) at ([xshift=11pt]uri3j |- 0,-1989) {师引导：“筛出去”的过程发生在肾小球，即将血液中的某些成分筛出去;“捡回来”的过程发生在肾小管，即把筛出去的某些小分子物质重新捡回来。};
\foreach \c in {uri3a,uri3b,uri3c,uri3d} \draw[link] (uri3.east) -- (uri3j) |- (\c.west);

\coordinate (r1d3j) at ([xshift=12pt]r1d3.east);
\node[txt,rt] (sum1) at ([xshift=11pt]r1d3j |- 0,-2072) {1、课件展示};
\node[txt,rt] (sum2) at ([xshift=11pt]r1d3j |- 0,-2150) {2、学以致用};
\foreach \c in {sum1,sum2} \draw[link] (r1d3.east) -- (r1d3j) |- (\c.west);
\coordinate (sum1j) at ([xshift=12pt]sum1.east);
\node[txt,rt] (sum1a) at ([xshift=11pt]sum1j |- 0,-2047) {血液透析示意图。};
\node[para,rt] (sum1b) at ([xshift=11pt]sum1j |- 0,-2098) {师强调：人工肾是模拟肾脏滤过作用的原理，依靠体外循环装置净化血液，又称“血液透析”。};
\foreach \c in {sum1a,sum1b} \draw[link] (sum1.east) -- (sum1j) |- (\c.west);
\coordinate (sum2j) at ([xshift=12pt]sum2.east);
\node[txt,rt] (sum2a) at ([xshift=11pt]sum2j |- 0,-2150) {上面那位病人怎么了?学生回答。};
\draw[link] (sum2.east) -- (sum2j) |- (sum2a.west);

\coordinate (r1d4j) at ([xshift=12pt]r1d4.east);
\node[txt,rt] (hw1) at ([xshift=11pt]r1d4j |- 0,-2191) {小结：师生共同画概念图总结本节知识点。};
\node[para,rt] (hw2) at ([xshift=11pt]r1d4j |- 0,-2249) {作业：课后大家查阅资料当人体的肾脏功能出现问题时人体机能会出现什么变化?水对人体非常重要，而排尿时会失去大量水，那么为什么人体在缺少的情况下还是要排出尿液呢?};
\foreach \c in {hw1,hw2} \draw[link] (r1d4.east) -- (r1d4j) |- (\c.west);

% ===== branch 4 =====
\coordinate (b4j) at ([xshift=12pt]b4.east);
\node[para,rt] (b4p) at ([xshift=11pt]b4j |- 0,-2323) {《细菌》这一课题是人教版的“九年义务教育三年制初级中学生物教科书”八年级上册，第五部分，第四章的第二节，下面我从五个方面阐述说课的内容。};
\node[txt,rt] (b4a) at ([xshift=11pt]b4j |- 0,-2702) {一、教材分析};
\node[txt,rt] (b4b) at ([xshift=11pt]b4j |- 0,-3168) {二、教材处理:};
\node[txt,rt] (b4c) at ([xshift=11pt]b4j |- 0,-3532) {三、教学方法的选择:};
\node[txt,rt] (b4d) at ([xshift=11pt]b4j |- 0,-3876) {四、教学过程的实施:};
\foreach \c in {b4p,b4a,b4b,b4c,b4d} \draw[link] (b4.east) -- (b4j) |- (\c.west);

\coordinate (b4aj) at ([xshift=12pt]b4a.east);
\node[txt,rt] (b4a1) at ([xshift=11pt]b4aj |- 0,-2451) {(一)教材的作用和地位};
\node[txt,rt] (b4a2) at ([xshift=11pt]b4aj |- 0,-2710) {(二)、本节的学习目标及依据:};
\node[txt,rt] (b4a3) at ([xshift=11pt]b4aj |- 0,-2951) {(三)、本节的教学重点难点是:};
\foreach \c in {b4a1,b4a2,b4a3} \draw[link] (b4a.east) -- (b4aj) |- (\c.west);
\coordinate (b4a1j) at ([xshift=12pt]b4a1.east);
\node[para,rt] (b4a1a) at ([xshift=11pt]b4a1j |- 0,-2452) {细菌是单细胞的生物，所以必须以前面学过的动植物细胞的知识为基础，细菌的营养方式需要植物体内的叶绿体以及光合作用的知识来引导，细菌的个体微小，需要借助显微镜，又必须有显微镜的知识，而学习了细菌的形态、结构、营养和生殖方式才能为理解细菌在生物圈中的作用打下基础，因此本节课起到了续前铺后的作用，本课安排在学习了动物、植物细胞的基础上来进行，通过与动物植物细胞的比较来进一步学习细菌的结构。在自然界的物质循环中菌类是分解者，菌类虽然多数个体较小但在生态平衡中起着重要的作用，菌类和动物植物一起构成了整个生物界。};
\draw[link] (b4a1.east) -- (b4a1j) |- (b4a1a.west);
\coordinate (b4a2j) at ([xshift=12pt]b4a2.east);
\node[txt,rt] (aim1) at ([xshift=11pt]b4a2j |- 0,-2563) {依据：根据教学大纲和教材及学生实际。};
\node[txt,rt] (aim2) at ([xshift=11pt]b4a2j |- 0,-2672) {知识目标:};
\node[txt,rt] (aim3) at ([xshift=11pt]b4a2j |- 0,-2858) {德育目标:};
\foreach \c in {aim1,aim2,aim3} \draw[link] (b4a2.east) -- (b4a2j) |- (\c.west);
\coordinate (aim2j) at ([xshift=12pt]aim2.east);
\node[txt,rt] (aim2a) at ([xshift=11pt]aim2j |- 0,-2603) {1、让学生掌握细菌的主要特征;};
\node[para,rt] (aim2b) at ([xshift=11pt]aim2j |- 0,-2648) {2、通过与动、植物细胞的比较推测出细菌的营养方式;};
\node[para,rt] (aim2c) at ([xshift=11pt]aim2j |- 0,-2741) {3、通过了解细菌的发现和巴斯德实验认同科学的发现需要以技术的进步和精细的实验};
\foreach \c in {aim2a,aim2b,aim2c} \draw[link] (aim2.east) -- (aim2j) |- (\c.west);
\coordinate (aim2cj) at ([xshift=12pt]aim2c.east);
\node[txt,rt] (aim2c1) at ([xshift=11pt]aim2cj |- 0,-2694) {做基础;};
\node[para,rt] (aim2c2) at ([xshift=11pt]aim2cj |- 0,-2741) {能力目标：通过观察培养学生发现问题的能力，通过比较培养学生分析、解决问题的能力};
\node[txt,rt] (aim2c3) at ([xshift=11pt]aim2cj |- 0,-2787) {学会思考，学会理论联系实际。};
\foreach \c in {aim2c1,aim2c2,aim2c3} \draw[link] (aim2c.east) -- (aim2cj) |- (\c.west);
\coordinate (aim3j) at ([xshift=12pt]aim3.east);
\node[para,rt] (aim3a) at ([xshift=11pt]aim3j |- 0,-2833) {1、通过点出日本侵略者惨无人道的行径激起学生的民族自信心和爱国主义情感};
\node[para,rt] (aim3b) at ([xshift=11pt]aim3j |- 0,-2885) {2、通过对细菌繁殖速度的认识，减少细菌的感染，养成良好的卫生习惯。};
\foreach \c in {aim3a,aim3b} \draw[link] (aim3.east) -- (aim3j) |- (\c.west);
\coordinate (b4a3j) at ([xshift=12pt]b4a3.east);
\node[txt,rt] (key1) at ([xshift=11pt]b4a3j |- 0,-2931) {1、细菌的形态结构特点;};
\node[txt,rt] (key2) at ([xshift=11pt]b4a3j |- 0,-2971) {2、细菌的营养方式和生殖。};
\foreach \c in {key1,key2} \draw[link] (b4a3.east) -- (b4a3j) |- (\c.west);

\coordinate (b4bj) at ([xshift=12pt]b4b.east);
\node[txt,rt] (b4b1) at ([xshift=11pt]b4bj |- 0,-3052) {(一)学情分析:};
\node[txt,rt] (b4b2) at ([xshift=11pt]b4bj |- 0,-3285) {(二)教学设计:};
\foreach \c in {b4b1,b4b2} \draw[link] (b4b.east) -- (b4bj) |- (\c.west);
\coordinate (b4b1j) at ([xshift=12pt]b4b1.east);
\node[para,rt] (b4b1a) at ([xshift=11pt]b4b1j |- 0,-3052) {由于班内学生成绩相差悬殊，且初二学生的形象思维仍占优势，注意力容易转移，学生对细菌的发现史、形态结构较为陌生，为了提高他们的学习兴趣，在教学中要注意直观性原则，用不同层次的问题面向全体学生，不失时机的作出鼓励的肯定，使全体学生能保持较大的学习兴趣，从而努力培养学生的逻辑思维能力。};
\draw[link] (b4b1.east) -- (b4b1j) |- (b4b1a.west);
\coordinate (b4b2j) at ([xshift=12pt]b4b2.east);
\node[para,rt] (b4b2a) at ([xshift=11pt]b4b2j |- 0,-3174) {本节课安排一课时,课堂教学中，应通过阅读细菌的发现史，让学生了解显微镜的出现加快了人类对微观世界认识的进程，进而认识技术对科学发展的推动作用;同时通过介绍巴斯德的科学研究过程，使学生认识到科学的新发现是建立在缜密的思维和精细的实验基础上的。教师可以利用课文中的讨论题“你对科学的发现有什么新的认识?”让学生交流自己的看法。};
\node[para,rt] (b4b2b) at ([xshift=11pt]b4b2j |- 0,-3285) {在观察细菌的形态和结构时，教师可以有目的地介绍一些与学生身体有关的细菌，如肺炎球菌、大肠杆菌等。在进行观察与思考活动时，教师要引导学生通过对比细菌与动植物细胞的区别，描述出细菌的基本结构特点。同时要让学生在讨论中交流对“细菌营养方式”的推测。};
\node[para,rt] (b4b2c) at ([xshift=11pt]b4b2j |- 0,-3395) {在学生已经了解了细菌是通过分裂完成生殖后，教师可以利用技能训练的内容，加深学生对“细菌个体小但数量很多”这个说法的认识，在学生了解了细菌是如何度过恶劣环境的内容后，可引导学生完成练习第一、二题的讨论和交流。然后，让学生回忆人的呼吸等内容，思考并回答练习第三题，发展学生利用已有知识解决问题的能力。};
\foreach \c in {b4b2a,b4b2b,b4b2c} \draw[link] (b4b2.east) -- (b4b2j) |- (\c.west);

\coordinate (b4cj) at ([xshift=12pt]b4c.east);
\node[para,rt] (b4c1) at ([xshift=11pt]b4cj |- 0,-3488) {(一)教法：为了体现学生的主体地位，根据教学内容的要求，本节课采用观察法，结合比较归纳法进行启发式教学};
\node[txt,rt] (b4c2) at ([xshift=11pt]b4cj |- 0,-3577) {(二)学法:};
\foreach \c in {b4c1,b4c2} \draw[link] (b4c.east) -- (b4cj) |- (\c.west);
\coordinate (b4c2j) at ([xshift=12pt]b4c2.east);
\node[para,rt] (b4c2a) at ([xshift=11pt]b4c2j |- 0,-3546) {1、通过学生对“细菌的发现”的阅读，培养学生的自学能力};
\node[para,rt] (b4c2b) at ([xshift=11pt]b4c2j |- 0,-3610) {2、在上述教法的指导下，利用一环扣一环的问题启发学生，引导学生发现知识，归纳知识结构，思考分析，得出结论，让他们体验成功的喜悦，从而掌握学习重难点。};
\foreach \c in {b4c2a,b4c2b} \draw[link] (b4c2.east) -- (b4c2j) |- (\c.west);

\coordinate (b4dj) at ([xshift=12pt]b4d.east);
\node[para,rt] (b4d1) at ([xshift=11pt]b4dj |- 0,-3685) {(一)新课导入：采用抗战期间日本人以细菌作为生化武器导入新课：日本人用抓来的中国人来做细菌试验，使无数的中国军民惨遭毒害;从来引起学生对本节课的兴趣。};
\node[txt,rt] (b4d2) at ([xshift=11pt]b4dj |- 0,-3773) {(二)细菌};
\node[txt,rt] (b4d3) at ([xshift=11pt]b4dj |- 0,-3870) {(三)细菌的形态结构:};
\node[txt,rt] (b4d4) at ([xshift=11pt]b4dj |- 0,-3974) {(四)细菌的生殖:};
\node[txt,rt] (b4d5) at ([xshift=11pt]b4dj |- 0,-4067) {(五)练习巩固};
\foreach \c in {b4d1,b4d2,b4d3,b4d4,b4d5} \draw[link] (b4d.east) -- (b4dj) |- (\c.west);
\coordinate (b4d2j) at ([xshift=12pt]b4d2.east);
\node[para,rt] (b4d2a) at ([xshift=11pt]b4d2j |- 0,-3772) {的发现：从学生阅读书本资料入手，培养学生的自学能力。教师注意小结，引起学生对科学探索的兴趣。通过对列文虎克发现细菌和巴斯德的“鹅颈瓶”实验这段的阅读，让学生了解科学的成功需要以技术的进步和精细的实验做基础，机会总是垂青于有准备的人。};
\draw[link] (b4d2.east) -- (b4d2j) |- (b4d2a.west);
\coordinate (b4d3j) at ([xshift=12pt]b4d3.east);
\node[para,rt] (b4d3a) at ([xshift=11pt]b4d3j |- 0,-3870) {本部分通过观察挂图让学生直观地认识到细菌的三型，通过具体的数字形象的比喻理解细菌个体的大小。通过和老师一起绘细菌结构图，加深对细菌结构的认识，然后再通过动物细胞植物细胞和细菌的比较来推测出细菌的营养方式。};
\draw[link] (b4d3.east) -- (b4d3j) |- (b4d3a.west);
\coordinate (b4d4j) at ([xshift=12pt]b4d4.east);
\node[para,rt] (b4d4a) at ([xshift=11pt]b4d4j |- 0,-3974) {通过计算让学生认识到细菌繁殖速度之快，四个小时后100个细菌将繁殖成25600个通过这一活生生的数字引起学生注意养成勤洗手的好习惯并了解细菌的生殖方式为分裂生殖。强调芽孢不是细菌的繁殖方式，而是休眠体，是对不良环境的适应，从而认识细菌的适应能力强，分布广泛。};
\draw[link] (b4d4.east) -- (b4d4j) |- (b4d4a.west);
\coordinate (b4d5j) at ([xshift=12pt]b4d5.east);
\node[para,rt] (b4d5a) at ([xshift=11pt]b4d5j |- 0,-4068) {通过本节的学习掌握了细菌相关知识，为了反馈课堂掌握情况，让学生对课后P61的技能训练和练习进行知识巩固。最后让学生绘制细菌结构图，加深对细菌结构的认识。};
\draw[link] (b4d5.east) -- (b4d5j) |- (b4d5a.west);

% ===== related articles =====
\coordinate (relj) at ([xshift=12pt]rel.east);
\node[txt,rt] (a1) at ([xshift=8pt]relj |- 0,-4126) {★生物初中教学反思5篇};
\node[txt,rt] (a2) at ([xshift=8pt]relj |- 0,-4166) {★优质初中生物教学反思5篇};
\node[txt,rt] (a3) at ([xshift=8pt]relj |- 0,-4206) {★初中生物教学反思范例5篇};
\node[txt,rt] (a4) at ([xshift=8pt]relj |- 0,-4247) {★初中生物教学心得反思总结5篇};
\node[txt,rt] (a5) at ([xshift=8pt]relj |- 0,-4287) {★初中生物考核教学反思最新5篇};
\node[txt,rt] (a6) at ([xshift=8pt]relj |- 0,-4327) {★初中生物学科教学反思5篇};
\node[txt,rt] (a7) at ([xshift=8pt]relj |- 0,-4367) {★初中生物课教学反思大全5篇};
\node[txt,rt] (a8) at ([xshift=8pt]relj |- 0,-4407) {★初中生物教学反思个人总结5篇};
\node[txt,rt] (a9) at ([xshift=8pt]relj |- 0,-4447) {★初中生物实验教学反思5篇};
\node[txt,rt] (a10) at ([xshift=8pt]relj |- 0,-4488) {★人教版初中生物教学课时教学反思5篇};
\foreach \c in {a1,a2,a3,a4,a5,a6,a7,a8,a9,a10} \draw[link] (rel.east) -- (relj) |- (\c.west);

% ---- watermarks ----
\foreach \wx in {346,1624}
  \foreach \wy in {703,1703,2703,3703,4703}
    \node[wm] at (\wx,-\wy) {树图 {\wmlatin shutu.cn}};
\end{tikzpicture}
\end{document}
